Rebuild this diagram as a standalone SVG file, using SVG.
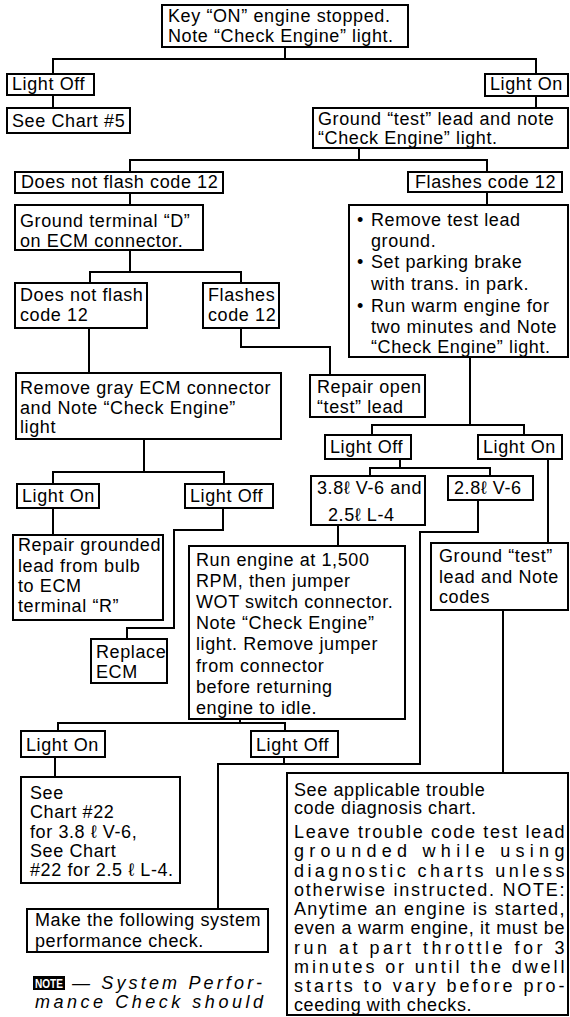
<svg xmlns="http://www.w3.org/2000/svg" width="570" height="1017" viewBox="0 0 570 1017">
<style>
.b{fill:#fff;stroke:#000;stroke-width:2}
.t{font-family:"Liberation Sans",Arial,sans-serif;font-size:18px;letter-spacing:0.6px;fill:#000}
.c{fill:none;stroke:#000;stroke-width:2}
.n{font-family:"Liberation Sans",Arial,sans-serif;font-style:italic;font-size:18px;fill:#000}
</style>
<rect width="570" height="1017" fill="#fff"/>
<g id="connectors" class="c">
<path d="M285,47V59M53,74V59H536V74"/>
<path d="M53,95V108"/>
<path d="M536,96V108"/>
<path d="M359,148V160M130,172V160H487V172"/>
<path d="M130,193V205"/>
<path d="M487,192V205"/>
<path d="M130,250V272M90,283V272H241V283"/>
<path d="M89,328V373"/>
<path d="M241,328V347H330V375"/>
<path d="M470,357V425M372,435V425H524V435"/>
<path d="M144,439V472M53,484V472H224V484"/>
<path d="M53,508V535"/>
<path d="M223,508V530H174V628H127V639"/>
<path d="M400,459V468M370,476V468H490V476"/>
<path d="M338,525V546"/>
<path d="M548,459V543"/>
<path d="M478,500V532H420V764H218V909M284,757V764"/>
<path d="M503,610V773"/>
<path d="M240,719V723M58,731V723H285V731"/>
<path d="M55,757V777"/>
</g>
<g id="n1"><rect class="b" x="162" y="5" width="246" height="42"/><text class="t" x="168" y="22">Key “ON” engine stopped.</text><text class="t" x="168" y="42">Note “Check Engine” light.</text></g>
<g id="n2"><rect class="b" x="7" y="74" width="87" height="21"/><text class="t" x="12" y="90">Light Off</text></g>
<g id="n3"><rect class="b" x="485" y="74" width="83" height="22"/><text class="t" x="490" y="90">Light On</text></g>
<g id="n4"><rect class="b" x="7" y="108" width="123" height="25"/><text class="t" x="12" y="127">See Chart #5</text></g>
<g id="n5"><rect class="b" x="313" y="108" width="255" height="40"/><text class="t" x="318" y="125">Ground “test” lead and note</text><text class="t" x="318" y="144">“Check Engine” light.</text></g>
<g id="n6"><rect class="b" x="15" y="172" width="208" height="21"/><text class="t" x="21" y="188">Does not flash code 12</text></g>
<g id="n7"><rect class="b" x="408" y="172" width="154" height="20"/><text class="t" x="415" y="188">Flashes code 12</text></g>
<g id="n8"><rect class="b" x="15" y="205" width="188" height="45"/><text class="t" x="20" y="227">Ground terminal “D”</text><text class="t" x="20" y="247">on ECM connector.</text></g>
<g id="n9"><rect class="b" x="349" y="205" width="219" height="152"/>
<text class="t" x="357" y="226">•</text><text class="t" x="371" y="226">Remove test lead</text>
<text class="t" x="371" y="247">ground.</text>
<text class="t" x="357" y="268">•</text><text class="t" x="371" y="268">Set parking brake</text>
<text class="t" x="371" y="290">with trans. in park.</text>
<text class="t" x="357" y="312">•</text><text class="t" x="371" y="312">Run warm engine for</text>
<text class="t" x="371" y="333">two minutes and Note</text>
<text class="t" x="371" y="353">“Check Engine” light.</text></g>
<g id="n10"><rect class="b" x="15" y="283" width="132" height="45"/><text class="t" x="20" y="301">Does not flash</text><text class="t" x="20" y="321">code 12</text></g>
<g id="n11"><rect class="b" x="203" y="283" width="76" height="45"/><text class="t" x="208" y="301">Flashes</text><text class="t" x="208" y="321">code 12</text></g>
<g id="n12"><rect class="b" x="16" y="373" width="265" height="66"/><text class="t" x="20" y="394">Remove gray ECM connector</text><text class="t" x="20" y="414">and Note “Check Engine”</text><text class="t" x="20" y="433">light</text></g>
<g id="n13"><rect class="b" x="310" y="375" width="115" height="42"/><text class="t" x="317" y="393">Repair open</text><text class="t" x="317" y="413">“test” lead</text></g>
<g id="n14"><rect class="b" x="325" y="435" width="86" height="24"/><text class="t" x="330" y="453">Light Off</text></g>
<g id="n15"><rect class="b" x="478" y="435" width="84" height="24"/><text class="t" x="483" y="453">Light On</text></g>
<g id="n16"><rect class="b" x="17" y="484" width="82" height="24"/><text class="t" x="22" y="502">Light On</text></g>
<g id="n17"><rect class="b" x="185" y="484" width="88" height="24"/><text class="t" x="190" y="502">Light Off</text></g>
<g id="n18"><rect class="b" x="311" y="476" width="114" height="49"/><text class="t" x="317" y="494">3.8ℓ V-6 and</text><text class="t" x="328" y="521">2.5ℓ L-4</text></g>
<g id="n19"><rect class="b" x="448" y="476" width="85" height="24"/><text class="t" x="454" y="494">2.8ℓ V-6</text></g>
<g id="n20"><rect class="b" x="13" y="535" width="150" height="85"/><text class="t" x="18" y="551">Repair grounded</text><text class="t" x="18" y="572">lead from bulb</text><text class="t" x="18" y="592">to ECM</text><text class="t" x="18" y="612">terminal “R”</text></g>
<g id="n21"><rect class="b" x="431" y="543" width="137" height="67"/><text class="t" x="439" y="562">Ground “test”</text><text class="t" x="439" y="583">lead and Note</text><text class="t" x="439" y="603">codes</text></g>
<g id="n22"><rect class="b" x="189" y="546" width="216" height="173"/>
<text class="t" x="196" y="566">Run engine at 1,500</text>
<text class="t" x="196" y="587">RPM, then jumper</text>
<text class="t" x="196" y="608">WOT switch connector.</text>
<text class="t" x="196" y="629">Note “Check Engine”</text>
<text class="t" x="196" y="650">light. Remove jumper</text>
<text class="t" x="196" y="672">from connector</text>
<text class="t" x="196" y="693">before returning</text>
<text class="t" x="196" y="714">engine to idle.</text></g>
<g id="n23"><rect class="b" x="91" y="639" width="76" height="44"/><text class="t" x="96" y="658">Replace</text><text class="t" x="96" y="678">ECM</text></g>
<g id="n24"><rect class="b" x="21" y="731" width="84" height="26"/><text class="t" x="26" y="751">Light On</text></g>
<g id="n25"><rect class="b" x="251" y="731" width="87" height="26"/><text class="t" x="256" y="751">Light Off</text></g>
<g id="n26"><rect class="b" x="21" y="777" width="159" height="106"/>
<text class="t" x="30" y="799">See</text>
<text class="t" x="30" y="818">Chart #22</text>
<text class="t" x="30" y="838">for 3.8 ℓ V-6,</text>
<text class="t" x="30" y="857">See Chart</text>
<text class="t" x="30" y="876">#22 for 2.5 ℓ L-4.</text></g>
<g id="n27"><rect class="b" x="287" y="773" width="281" height="242"/>
<text class="t" x="294" y="796">See applicable trouble</text>
<text class="t" x="294" y="814">code diagnosis chart.</text>
<text class="t" x="294" y="838" textLength="271" lengthAdjust="spacing">Leave trouble code test lead</text>
<text class="t" x="294" y="857" textLength="271" lengthAdjust="spacing">grounded while using</text>
<text class="t" x="294" y="877" textLength="271" lengthAdjust="spacing">diagnostic charts unless</text>
<text class="t" x="294" y="896" textLength="271" lengthAdjust="spacing">otherwise instructed. NOTE:</text>
<text class="t" x="294" y="915" textLength="271" lengthAdjust="spacing">Anytime an engine is started,</text>
<text class="t" x="294" y="934" textLength="271" lengthAdjust="spacing">even a warm engine, it must be</text>
<text class="t" x="294" y="954" textLength="271" lengthAdjust="spacing">run at part throttle for 3</text>
<text class="t" x="294" y="973" textLength="271" lengthAdjust="spacing">minutes or until the dwell</text>
<text class="t" x="294" y="992" textLength="271" lengthAdjust="spacing">starts to vary before pro-</text>
<text class="t" x="294" y="1011">ceeding with checks.</text></g>
<g id="n28"><rect class="b" x="27" y="909" width="241" height="43"/><text class="t" x="35" y="926">Make the following system</text><text class="t" x="35" y="947">performance check.</text></g>
<g id="note">
<rect x="33" y="976" width="32" height="14" fill="#000"/>
<text x="35" y="988" font-family="Liberation Sans,Arial,sans-serif" font-weight="bold" font-size="12" fill="#fff" textLength="28" lengthAdjust="spacingAndGlyphs">NOTE</text>
<text class="n" x="72" y="989" textLength="190" lengthAdjust="spacing">— System Perfor-</text>
<text class="n" x="35" y="1008" textLength="228" lengthAdjust="spacing">mance Check should</text>
</g>
</svg>
